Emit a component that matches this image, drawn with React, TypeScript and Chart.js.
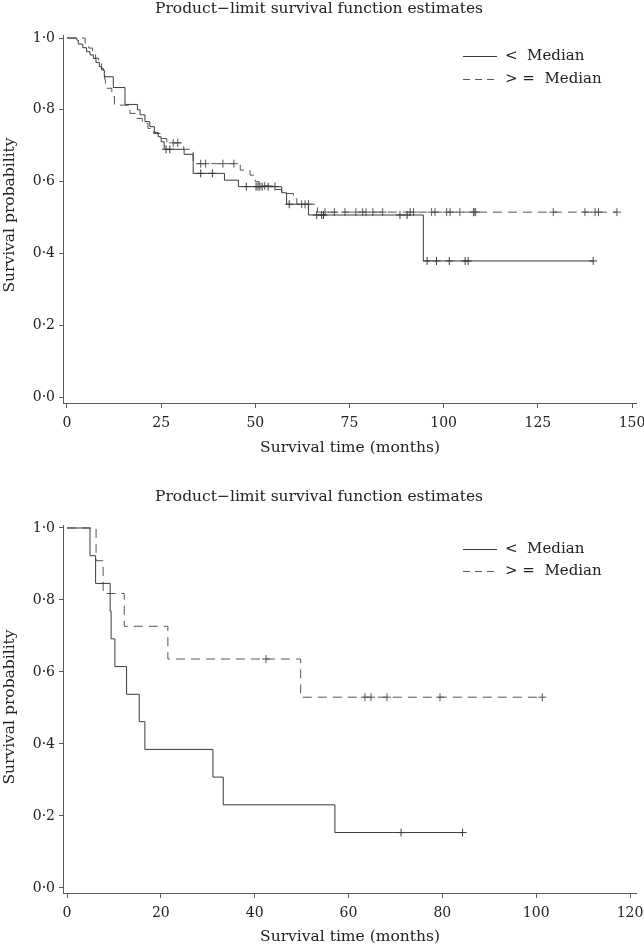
import React, { useEffect, useRef } from 'react';
import { Chart, registerables } from 'chart.js';

Chart.register(...registerables);

const TITLE = 'Product\u2212limit survival function estimates';
const X_TITLE = 'Survival time (months)';
const Y_TITLE = 'Survival probability';
const LEGEND_LABELS = ['<  Median', '> =  Median'];
const Y_TICKS = [0, 0.2, 0.4, 0.6, 0.8, 1.0];
const X_TICKS_TOP = [0, 25, 50, 75, 100, 125, 150];
const X_TICKS_BOTTOM = [0, 20, 40, 60, 80, 100, 120];

// Top panel, "< Median" group: step times (months) and survival after each step
const topLowTimes = [0, 2.6, 3.0, 4.2, 5.2, 6.1, 7.0, 7.7, 8.6, 9.2, 9.9, 12.3, 15.4, 18.7, 19.4, 20.7, 22.0, 23.2, 24.2, 25.0, 25.8, 31.1, 33.5, 41.8, 45.5, 57.0, 58.3, 64.1, 94.6, 139.7];
const topLowSurv = [1, 0.994, 0.983, 0.973, 0.962, 0.953, 0.943, 0.932, 0.92, 0.911, 0.892, 0.862, 0.815, 0.8, 0.786, 0.767, 0.753, 0.737, 0.725, 0.711, 0.69, 0.676, 0.623, 0.604, 0.586, 0.569, 0.537, 0.507, 0.379, 0.379];
const topLowCensored = [26.3, 27.3, 35.5, 38.6, 47.6, 50.2, 50.7, 51.2, 51.8, 53.4, 55.2, 59.0, 66.3, 67.6, 68.1, 88.4, 90.3, 95.6, 98.1, 101.5, 105.7, 106.5, 139.7];

// Top panel, ">= Median" group
const topHighTimes = [0, 4.8, 5.8, 6.8, 7.6, 8.4, 9.2, 9.7, 10.0, 10.2, 10.5, 11.9, 12.6, 16.7, 18.5, 20.0, 21.5, 23.0, 24.8, 26.5, 31.0, 33.5, 46.0, 48.6, 50.0, 51.0, 54.8, 57.0, 57.9, 60.1, 61.0, 66.5, 146.0];
const topHighSurv = [1, 0.986, 0.972, 0.958, 0.944, 0.93, 0.915, 0.9, 0.885, 0.871, 0.86, 0.837, 0.813, 0.79, 0.776, 0.762, 0.748, 0.734, 0.72, 0.708, 0.69, 0.65, 0.632, 0.618, 0.6, 0.588, 0.578, 0.572, 0.567, 0.556, 0.537, 0.515, 0.515];
const topHighCensored = [28.2, 29.4, 35.5, 36.8, 41.4, 44.3, 52.5, 62.3, 63.2, 64.1, 68.5, 71.0, 73.8, 76.7, 78.5, 79.4, 81.2, 83.8, 91.1, 92.0, 96.8, 97.7, 100.8, 101.7, 104.3, 107.9, 108.1, 108.5, 129.1, 137.5, 140.2, 141.1, 146.0];

// Bottom panel, "< Median" group
const botLowTimes = [0, 4.9, 6.1, 9.2, 9.4, 10.2, 12.7, 15.4, 16.6, 31.1, 33.3, 57.1, 84.3];
const botLowSurv = [1, 0.923, 0.846, 0.769, 0.692, 0.615, 0.538, 0.462, 0.385, 0.308, 0.231, 0.154, 0.154];
const botLowCensored = [71.2, 84.3];

// Bottom panel, ">= Median" group
const botHighTimes = [0, 6.2, 7.7, 12.2, 21.5, 49.8, 101.3];
const botHighSurv = [1, 0.909, 0.818, 0.727, 0.636, 0.53, 0.53];
const botHighCensored = [42.4, 63.5, 64.8, 68.2, 79.5, 101.3];

const FONT = '"DejaVu Serif", serif';
const SOLID_COLOR = '#3a3a3a';
const DASH_COLOR = '#555555';
const AXIS_COLOR = '#5a5a5a';
const TEXT_COLOR = '#222222';

function stepPoints(times: number[], surv: number[]) {
  return times.map((t, i) => ({ x: t, y: surv[i] }));
}

function censorPoints(times: number[], surv: number[], cens: number[]) {
  return cens.map((c) => {
    let y = surv[0];
    for (let i = 0; i < times.length; i++) {
      if (times[i] <= c) y = surv[i];
    }
    return { x: c, y };
  });
}

const decorPlugin = {
  id: 'decor',
  afterDraw(chart: any, _args: any, opts: any) {
    const ctx = chart.ctx as CanvasRenderingContext2D;
    ctx.save();
    ctx.fillStyle = TEXT_COLOR;
    ctx.textBaseline = 'middle';
    ctx.textAlign = 'center';
    ctx.font = `15.5px ${FONT}`;
    ctx.fillText(TITLE, 319, opts.titleY);
    ctx.fillText(X_TITLE, 350, opts.xTitleY);
    ctx.save();
    ctx.translate(opts.yTitleX, opts.yTitleY);
    ctx.rotate(-Math.PI / 2);
    ctx.fillText(Y_TITLE, 0, 0);
    ctx.restore();
    // legend
    ctx.textAlign = 'left';
    ctx.font = `15px ${FONT}`;
    const rows = [
      { y: opts.legendY1, color: SOLID_COLOR, dash: [] as number[], label: LEGEND_LABELS[0] },
      { y: opts.legendY2, color: DASH_COLOR, dash: [7, 5], label: LEGEND_LABELS[1] },
    ];
    rows.forEach((r) => {
      ctx.save();
      ctx.strokeStyle = r.color;
      ctx.lineWidth = 1;
      ctx.setLineDash(r.dash);
      ctx.beginPath();
      ctx.moveTo(463, r.y + 0.5);
      ctx.lineTo(497, r.y + 0.5);
      ctx.stroke();
      ctx.restore();
      ctx.fillText(r.label, 505, r.y);
    });
    ctx.restore();
  },
};

interface PanelProps {
  height: number;
  top: number;
  padTop: number;
  xScaleHeight: number;
  xMin: number;
  xMax: number;
  yMin: number;
  yMax: number;
  xTicks: number[];
  low: { times: number[]; surv: number[]; cens: number[] };
  high: { times: number[]; surv: number[]; cens: number[] };
  decor: any;
}

function Panel(p: PanelProps) {
  const ref = useRef<HTMLCanvasElement>(null);
  useEffect(() => {
    const tickFont = { family: FONT, size: 14 };
    const chart = new Chart(ref.current as HTMLCanvasElement, {
      type: 'line',
      data: {
        datasets: [
          {
            data: stepPoints(p.low.times, p.low.surv),
            stepped: 'before',
            borderColor: SOLID_COLOR,
            borderWidth: 1,
            pointRadius: 0,
            fill: false,
          },
          {
            data: stepPoints(p.high.times, p.high.surv),
            stepped: 'before',
            borderColor: DASH_COLOR,
            borderWidth: 1,
            borderDash: [9, 6],
            pointRadius: 0,
            fill: false,
          },
          {
            data: censorPoints(p.low.times, p.low.surv, p.low.cens),
            showLine: false,
            pointStyle: 'cross',
            pointRadius: 4,
            pointBorderWidth: 1,
            pointBorderColor: SOLID_COLOR,
            borderColor: SOLID_COLOR,
          },
          {
            data: censorPoints(p.high.times, p.high.surv, p.high.cens),
            showLine: false,
            pointStyle: 'cross',
            pointRadius: 4,
            pointBorderWidth: 1,
            pointBorderColor: DASH_COLOR,
            borderColor: DASH_COLOR,
          },
        ] as any,
      },
      options: {
        animation: false,
        responsive: false,
        maintainAspectRatio: false,
        layout: { padding: { top: p.padTop, right: 8, left: 0, bottom: 0 } },
        plugins: {
          legend: { display: false },
          tooltip: { enabled: false },
          title: { display: false },
          decor: p.decor,
        } as any,
        scales: {
          x: {
            type: 'linear',
            min: p.xMin,
            max: p.xMax,
            afterBuildTicks: (s: any) => {
              s.ticks = p.xTicks.map((v) => ({ value: v }));
            },
            afterFit: (s: any) => {
              s.height = p.xScaleHeight;
              s.paddingLeft = 0;
              s.paddingRight = 0;
            },
            ticks: {
              autoSkip: false,
              maxRotation: 0,
              padding: 7,
              color: TEXT_COLOR,
              font: tickFont,
              callback: (v: any) => String(v),
            },
            grid: { display: true, drawOnChartArea: false, drawTicks: true, tickLength: 5, color: AXIS_COLOR, lineWidth: 1 },
            border: { display: true, color: AXIS_COLOR, width: 1 },
          },
          y: {
            type: 'linear',
            min: p.yMin,
            max: p.yMax,
            afterBuildTicks: (s: any) => {
              s.ticks = Y_TICKS.map((v) => ({ value: v }));
            },
            afterFit: (s: any) => {
              s.width = 63;
              s.paddingTop = 0;
              s.paddingBottom = 0;
            },
            ticks: {
              padding: 4,
              color: TEXT_COLOR,
              font: tickFont,
              callback: (v: any) => Number(v).toFixed(1).replace('.', '\u00B7'),
            },
            grid: { display: true, drawOnChartArea: false, drawTicks: true, tickLength: 4, color: AXIS_COLOR, lineWidth: 1 },
            border: { display: true, color: AXIS_COLOR, width: 1 },
          },
        },
      } as any,
      plugins: [decorPlugin],
    });
    return () => chart.destroy();
  }, []);
  return (
    <canvas
      ref={ref}
      width={644}
      height={p.height}
      style={{ position: 'absolute', left: 0, top: p.top, width: 644, height: p.height, display: 'block' }}
    />
  );
}

export default function App() {
  return (
    <div style={{ position: 'absolute', left: 0, top: 0, width: 644, height: 947, background: '#fff' }}>
      <Panel
        top={0}
        height={470}
        padTop={35}
        xScaleHeight={67}
        xMin={-1.06}
        xMax={151.06}
        yMin={-0.0167}
        yMax={1.0084}
        xTicks={X_TICKS_TOP}
        low={{ times: topLowTimes, surv: topLowSurv, cens: topLowCensored }}
        high={{ times: topHighTimes, surv: topHighSurv, cens: topHighCensored }}
        decor={{ titleY: 9, xTitleY: 448, yTitleX: 10, yTitleY: 215, legendY1: 56, legendY2: 79 }}
      />
      <Panel
        top={488}
        height={459}
        padTop={37}
        xScaleHeight={54}
        xMin={-0.853}
        xMax={121.27}
        yMin={-0.0139}
        yMax={1.0083}
        xTicks={X_TICKS_BOTTOM}
        low={{ times: botLowTimes, surv: botLowSurv, cens: botLowCensored }}
        high={{ times: botHighTimes, surv: botHighSurv, cens: botHighCensored }}
        decor={{ titleY: 9, xTitleY: 449, yTitleX: 10, yTitleY: 219, legendY1: 61, legendY2: 83 }}
      />
    </div>
  );
}
